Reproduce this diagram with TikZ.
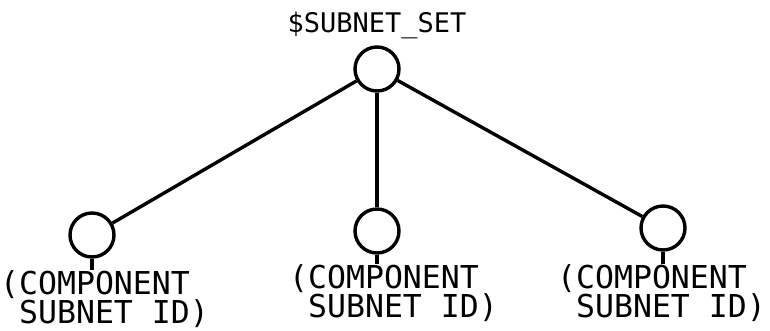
\documentclass[tikz,border=0pt]{standalone}
\usepackage{fontspec}
\setmonofont{DejaVu Sans Mono}
\usepackage{tikz}
\usetikzlibrary{positioning}

\begin{document}
\begin{tikzpicture}[
  x=1pt, y=-1pt,
  setnode/.style={circle, draw, line width=3.4pt, minimum size=44pt, inner sep=0pt},
  lbl/.style={anchor=north west, align=left, inner sep=0pt,
              font=\ttfamily\fontsize{31.5}{26.5}\selectfont},
  ttl/.style={inner sep=0pt, font=\ttfamily\fontsize{27}{28}\selectfont},
  lnk/.style={line width=3.4pt}
]
\useasboundingbox (0,0) rectangle (770,330);
\node[setnode] (root) at (377,69)  {};
\node[setnode] (c1)   at (92,235)  {};
\node[setnode] (c2)   at (377,231) {};
\node[setnode] (c3)   at (663,228) {};
\node[ttl, above=6pt of root] (rootlbl) {\$SUBNET\_SET};
\node[lbl] (t1) at (0,270)   {(COMPONENT\\\phantom{(}SUBNET ID)};
\node[lbl] (t2) at (289,264) {(COMPONENT\\\phantom{(}SUBNET ID)};
\node[lbl] (t3) at (557,264) {(COMPONENT\\\phantom{(}SUBNET ID)};
\draw[lnk] (root) -- (c1);
\draw[lnk] (root) -- (c2);
\draw[lnk] (root) -- (c3);
\draw[lnk] (c1.south) -- (c1.south |- t1.north);
\draw[lnk] (c2.south) -- (c2.south |- t2.north);
\draw[lnk] (c3.south) -- (c3.south |- t3.north);
\end{tikzpicture}
\end{document}
